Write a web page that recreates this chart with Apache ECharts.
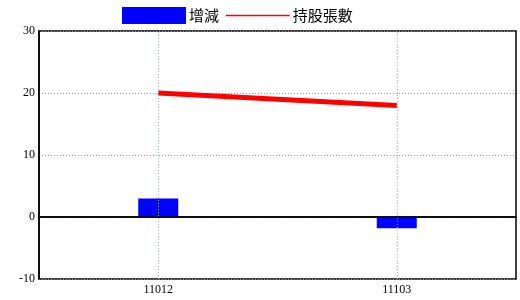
<!DOCTYPE html>
<html><head><meta charset="utf-8">
<script src="https://cdn.jsdelivr.net/npm/echarts@6/dist/echarts.min.js"></script>
<style>html,body{margin:0;padding:0;background:#fff}#c{width:520px;height:300px}</style>
</head><body><div id="c"></div>
<script>
const categories = ['11012', '11103'];
const changeValues = [3, -1.8];
const holdingValues = [20, 18];
const yTicks = { min: -10, max: 30, interval: 10 };

const chart = echarts.init(document.getElementById('c'), null, { renderer: 'canvas' });
const font = '"Liberation Serif", "Noto Sans CJK TC", serif';
chart.setOption({
  animation: false,
  backgroundColor: '#fff',
  textStyle: { fontFamily: font },
  legend: {
    left: 122, top: 7, padding: 0,
    itemWidth: 64, itemHeight: 17, itemGap: 6,
    textStyle: { fontSize: 15, color: '#000', fontFamily: '"Noto Sans CJK TC", sans-serif', padding: [0, 0, 0, -2] },
    data: [
      { name: '增減', icon: 'rect' },
      { name: '持股張數', lineStyle: { width: 1.5 }, itemStyle: { color: 'rgba(0,0,0,0)', borderWidth: 0, opacity: 0 } }
    ]
  },
  grid: { left: 39, top: 31, width: 477, height: 248, show: true, borderColor: '#000', borderWidth: 1.5, containLabel: false },
  xAxis: {
    type: 'category', data: categories, boundaryGap: true,
    axisLine: { lineStyle: { color: '#000', width: 1.5 } },
    axisTick: { show: false },
    splitLine: { show: false },
    axisLabel: { color: '#000', fontSize: 12, fontFamily: font, margin: 5 }
  },
  yAxis: {
    type: 'value', min: yTicks.min, max: yTicks.max, interval: yTicks.interval,
    axisLine: { show: true, lineStyle: { color: '#000', width: 1.5 } },
    axisTick: { show: false },
    splitLine: { show: true, lineStyle: { color: '#999', type: [1, 2], width: 1 } },
    axisLabel: { color: '#000', fontSize: 12, fontFamily: font, margin: 4 }
  },
  series: [
    {
      name: '增減', type: 'bar', data: changeValues, barWidth: 40,
      itemStyle: { color: '#0000ff' },
      markLine: {
        silent: true, symbol: 'none', label: { show: false },
        lineStyle: { color: '#000', type: 'solid', width: 1.5 },
        data: [{ yAxis: 0 }]
      },
      z: 3
    },
    {
      name: '持股張數', type: 'line', data: holdingValues, symbol: 'none',
      lineStyle: { color: '#ff0000', width: 5 }, itemStyle: { color: '#ff0000' },
      markLine: {
        silent: true, symbol: 'none', label: { show: false },
        lineStyle: { color: '#a8b4c4', type: [1, 2], width: 1 },
        data: categories.map(c => ({ xAxis: c }))
      },
      z: 4
    }
  ]
});
</script></body></html>
